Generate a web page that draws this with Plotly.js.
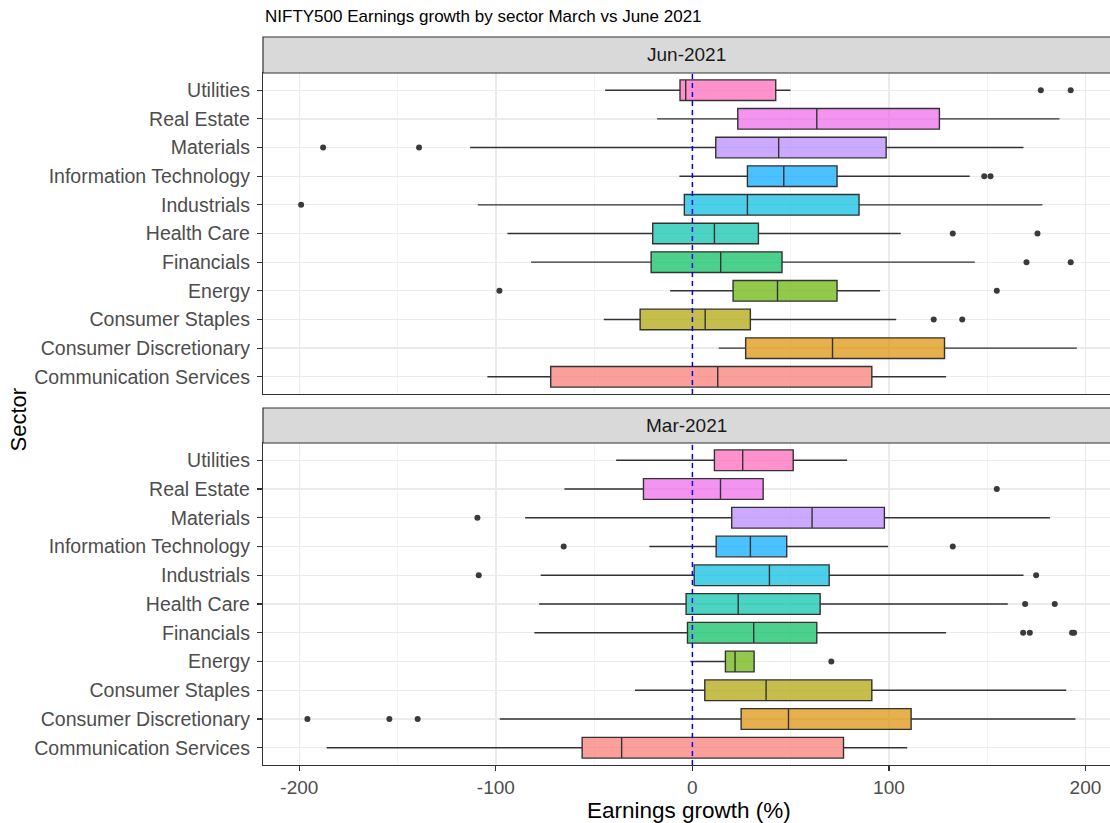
<!DOCTYPE html>
<html>
<head>
<meta charset="utf-8">
<script src="https://cdn.plot.ly/plotly-3.0.1.min.js"></script>
<style>html,body{margin:0;padding:0;background:#fff;}#chart{width:1110px;height:823px;}</style>
</head>
<body>
<div id="chart"></div>
<script>
// ---- data ----
const sectors = ["Communication Services","Consumer Discretionary","Consumer Staples","Energy","Financials","Health Care","Industrials","Information Technology","Materials","Real Estate","Utilities"];

// Jun-2021
const junLow = [-104.3, 13.4, -45.1, -11.3, -82.1, -94.1, -109.2, -6.6, -113.1, -18.0, -44.4];
const junQ1  = [-72.1, 27.1, -26.6, 20.7, -21.0, -20.2, -4.1, 28.0, 11.9, 23.1, -6.3];
const junMed = [12.9, 71.3, 6.5, 43.3, 14.4, 11.2, 28.0, 46.5, 43.9, 63.3, -3.4];
const junQ3  = [91.3, 128.3, 29.5, 73.6, 45.6, 33.6, 84.8, 73.6, 98.6, 125.7, 42.4];
const junHigh= [129.1, 195.6, 103.7, 95.5, 143.7, 106.0, 178.1, 141.1, 168.5, 186.8, 49.9];
const junOutSector = ["Consumer Staples","Consumer Staples","Energy","Energy","Financials","Financials","Health Care","Health Care","Industrials","Information Technology","Information Technology","Materials","Materials","Utilities","Utilities"];
const junOutValue  = [122.8, 137.3, -98.2, 154.9, 170.0, 192.5, 132.5, 175.6, -199.1, 148.5, 151.7, -187.9, -139.1, 177.3, 192.5];

// Mar-2021
const marLow = [-186.1, -98.0, -29.2, -1.0, -80.4, -78.0, -77.2, -21.9, -85.1, -65.1, -38.8];
const marQ1  = [-56.1, 24.8, 6.3, 16.8, -2.5, -3.2, 0.9, 12.1, 20.0, -24.9, 11.2];
const marMed = [-36.0, 48.9, 37.5, 21.7, 31.2, 23.3, 39.2, 29.5, 60.9, 14.3, 25.6];
const marQ3  = [76.9, 111.3, 91.3, 31.4, 63.3, 65.0, 69.6, 48.0, 97.7, 36.0, 51.3];
const marHigh= [109.3, 194.9, 190.2, 31.4, 129.1, 160.5, 168.5, 99.6, 181.9, 36.0, 78.7];
const marOutSector = ["Consumer Discretionary","Consumer Discretionary","Consumer Discretionary","Energy","Financials","Financials","Financials","Financials","Health Care","Health Care","Industrials","Industrials","Information Technology","Information Technology","Materials","Real Estate"];
const marOutValue  = [-195.9, -154.2, -139.8, 70.7, 168.3, 171.7, 193.2, 194.2, 169.3, 184.4, -108.7, 174.9, -65.5, 132.5, -109.4, 154.9];

const panelLabels = ["Jun-2021", "Mar-2021"];
const xTicks = [-200, -100, 0, 100, 200];

// ---- styles ----
const hue = ["#F8766D","#DB8E00","#AEA200","#64B200","#00BD5C","#00C1A7","#00BADE","#00A6FF","#B385FF","#EF67EB","#FF63B6"];
function rgba(hex, a){
  const r=parseInt(hex.slice(1,3),16), g=parseInt(hex.slice(3,5),16), b=parseInt(hex.slice(5,7),16);
  return `rgba(${r},${g},${b},${a})`;
}
const FONT = "Liberation Sans, Arial, Helvetica, sans-serif";

const traces = [];
function addPanel(low,q1,med,q3,high,outS,outV,xa,ya){
  sectors.forEach((s,i)=>{
    traces.push({
      type:"box", orientation:"h", xaxis:xa, yaxis:ya,
      y:[s], q1:[q1[i]], median:[med[i]], q3:[q3[i]],
      lowerfence:[low[i]], upperfence:[high[i]],
      width:0.72, whiskerwidth:0, boxpoints:false,
      fillcolor: rgba(hue[i],0.7),
      line:{color:"#333333", width:1.4},
      showlegend:false, hoverinfo:"x+y"
    });
  });
  traces.push({
    type:"scatter", mode:"markers", xaxis:xa, yaxis:ya,
    x:outV, y:outS,
    marker:{color:"#3a3a3a", size:6},
    showlegend:false, hoverinfo:"x+y"
  });
}
addPanel(junLow,junQ1,junMed,junQ3,junHigh,junOutSector,junOutValue,"x2","y2");
addPanel(marLow,marQ1,marMed,marQ3,marHigh,marOutSector,marOutValue,"x","y");

const H = 692; // plot area height in px (823 - 73 - 58)
const py = p => (765 - p) / H;          // pixel y -> paper y
const px = p => (p - 263) / 847;        // pixel x -> paper x

const gridCommon = {
  showgrid:true, gridcolor:"#EBEBEB", gridwidth:1.3,
  zeroline:false, showline:true, linecolor:"#333333", linewidth:1.2
};
const xCommon = Object.assign({}, gridCommon, {
  range:[-218.5, 212.5], tickvals:xTicks, ticktext:xTicks.map(String),
  minor:{dtick:50, showgrid:true, gridcolor:"#F0F0F0", gridwidth:0.8},
  mirror:true
});
const yCommon = Object.assign({}, gridCommon, {
  type:"category", categoryorder:"array", categoryarray:sectors,
  range:[-0.6, 10.6], ticks:"outside", ticklen:5, tickwidth:1.2, tickcolor:"#333333",
  tickfont:{family:FONT, size:19.5, color:"#4D4D4D"}, ticklabelstandoff:3
});

const layout = {
  width:1110, height:823,
  margin:{l:263, r:0, t:73, b:58},
  paper_bgcolor:"#FFFFFF", plot_bgcolor:"#FFFFFF",
  font:{family:FONT},
  showlegend:false,
  xaxis: Object.assign({}, xCommon, {
    domain:[0,1], anchor:"y",
    ticks:"outside", ticklen:5, tickwidth:1.2, tickcolor:"#333333",
    tickfont:{family:FONT, size:19, color:"#4D4D4D"}
  }),
  yaxis: Object.assign({}, yCommon, {domain:[0, py(443)], anchor:"x"}),
  xaxis2: Object.assign({}, xCommon, {
    domain:[0,1], anchor:"y2", matches:"x", showticklabels:false, ticks:""
  }),
  yaxis2: Object.assign({}, yCommon, {domain:[py(394), 1], anchor:"x2"}),
  shapes:[
    {type:"rect", xref:"paper", yref:"paper", x0:0, x1:1.01, y0:1, y1:py(37),
     fillcolor:"#D9D9D9", line:{color:"#333333", width:1.2}},
    {type:"rect", xref:"paper", yref:"paper", x0:0, x1:1.01, y0:py(443), y1:py(408),
     fillcolor:"#D9D9D9", line:{color:"#333333", width:1.2}},
    {type:"line", xref:"x2", yref:"y2 domain", x0:0, x1:0, y0:0, y1:1,
     line:{color:"#0000FF", width:1.5, dash:"5px,4px"}, layer:"above"},
    {type:"line", xref:"x", yref:"y domain", x0:0, x1:0, y0:0, y1:1,
     line:{color:"#0000FF", width:1.5, dash:"5px,4px"}, layer:"above"}
  ],
  annotations:[
    {text:"NIFTY500 Earnings growth by sector March vs June 2021", xref:"paper", yref:"paper",
     x:0, y:py(17), xanchor:"left", yanchor:"middle", showarrow:false,
     font:{family:FONT, size:17, color:"#000000"}},
    {text:panelLabels[0], xref:"paper", yref:"paper", x:0.5, y:(1+py(37))/2,
     xanchor:"center", yanchor:"middle", showarrow:false,
     font:{family:FONT, size:19, color:"#1A1A1A"}},
    {text:panelLabels[1], xref:"paper", yref:"paper", x:0.5, y:(py(443)+py(408))/2,
     xanchor:"center", yanchor:"middle", showarrow:false,
     font:{family:FONT, size:19, color:"#1A1A1A"}},
    {text:"Sector", xref:"paper", yref:"paper", x:px(18.5), y:py(420), textangle:-90,
     xanchor:"center", yanchor:"middle", showarrow:false,
     font:{family:FONT, size:22, color:"#000000"}},
    {text:"Earnings growth (%)", xref:"paper", yref:"paper", x:px(688.5), y:py(810),
     xanchor:"center", yanchor:"middle", showarrow:false,
     font:{family:FONT, size:22.5, color:"#000000"}}
  ]
};

Plotly.newPlot("chart", traces, layout, {displayModeBar:false, staticPlot:true});
</script>
</body>
</html>
